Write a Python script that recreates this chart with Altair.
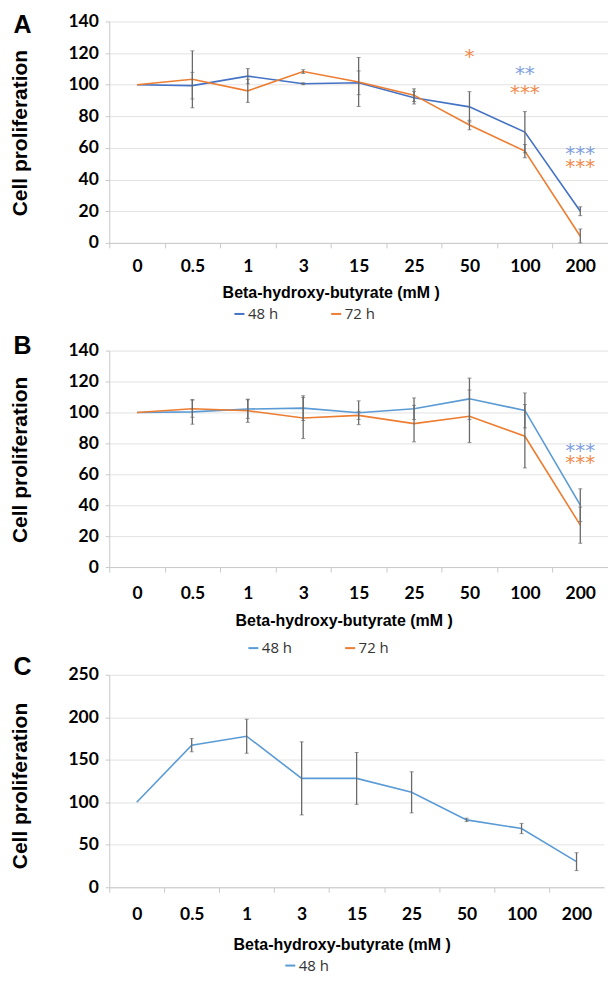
import altair as alt
import pandas as pd

categories = ["0", "0.5", "1", "3", "15", "25", "50", "100", "200"]
series_names = ["48 h", "72 h"]

# Panel A
a_48 = [100, 99.4, 105.4, 100.6, 101.2, 91.8, 86.0, 70.0, 20.0]
a_48_err = [0, 8.4, 4.8, 0.6, 7.5, 4.0, 9.6, 13.0, 2.8]
a_72 = [100, 103.4, 96.1, 108.3, 101.7, 93.4, 74.5, 58.0, 4.2]
a_72_err = [0, 18.0, 7.3, 1.2, 15.5, 4.0, 3.0, 4.2, 4.6]
a_star_cat = ["50", "100", "100", "200", "200"]
a_star_y = [120.5, 109.5, 97.8, 59.0, 50.8]
a_star_txt = ["*", "**", "***", "***", "***"]
a_star_series = ["72 h", "48 h", "72 h", "48 h", "72 h"]

# Panel B
b_48 = [100, 100.4, 102.2, 102.8, 99.8, 102.4, 108.8, 101.3, 40.0]
b_48_err = [0, 8.0, 6.0, 8.0, 7.7, 7.0, 13.4, 11.3, 10.6]
b_72 = [100, 102.4, 101.1, 96.4, 98.1, 92.8, 97.5, 84.6, 27.1]
b_72_err = [0, 5.5, 7.5, 13.3, 2.6, 11.8, 17.0, 20.5, 11.7]
b_star_cat = ["200", "200"]
b_star_y = [78.0, 70.3]
b_star_txt = ["***", "***"]
b_star_series = ["48 h", "72 h"]

# Panel C
c_48 = [100, 167.2, 177.7, 128.1, 128.1, 111.7, 79.3, 69.1, 30.1]
c_48_err = [0, 7.8, 20.0, 43.0, 30.5, 24.2, 2.0, 6.0, 10.5]

panel_letters = ["A", "B", "C"]
x_title = "Beta-hydroxy-butyrate (mM )"
y_title = "Cell proliferation"
y_ticks_ab = [0, 20, 40, 60, 80, 100, 120, 140]
y_ticks_c = [0, 50, 100, 150, 200, 250]

GRAY_ERR = "#6a6a6a"
AX_GRAY = "#c9c9c9"
GRID = "#e2e2e2"


def long_df(series_list):
    rows = []
    for name, vals, errs in series_list:
        for i, (c, v, e) in enumerate(zip(categories, vals, errs)):
            rows.append({"dose": c, "idx": i, "series": name, "value": v, "err": e})
    return pd.DataFrame(rows)


def make_panel(letter, data, names, colors, stars, star_colors, width, height,
               ymax, yticks, letter_y, ytitle_y, xlab_pad, xtitle_x, xtitle_y,
               leg_x, leg_y):
    step = width / len(categories)
    x_axis = alt.Axis(title=x_title, titleFont="Liberation Sans",
                      titleFontSize=16, titleFontWeight="bold",
                      titleColor="black", titleX=xtitle_x, titleY=xtitle_y,
                      titleAlign="center", titleBaseline="middle",
                      labelFont="Lato", labelFontSize=17.5,
                      labelFontWeight="bold", labelColor="black",
                      labelAngle=0, labelBaseline="middle",
                      labelPadding=xlab_pad, tickOffset=-step / 2,
                      labelOffset=step / 2, tickSize=5,
                      tickColor=AX_GRAY, domainColor=AX_GRAY,
                      grid=False)
    y_axis = alt.Axis(values=yticks, title=y_title,
                      titleFont="Liberation Sans", titleFontSize=21,
                      titleFontWeight="bold", titleColor="black",
                      titleAngle=270, titleX=-89, titleY=ytitle_y,
                      titleAlign="center", titleBaseline="middle",
                      labelFont="Lato", labelFontSize=17.5,
                      labelFontWeight="bold", labelColor="black",
                      labelPadding=7, tickSize=4, tickColor=AX_GRAY,
                      domainColor=AX_GRAY, gridColor=GRID)
    xs = alt.Scale(type="point", padding=0.5)
    ys = alt.Scale(domain=[0, ymax], nice=False)
    x = alt.X("dose:N", sort=categories, scale=xs, axis=x_axis)

    line = alt.Chart(data).mark_line(strokeWidth=1.6).encode(
        x=x, y=alt.Y("value:Q", scale=ys, axis=y_axis),
        color=alt.Color("series:N",
                        scale=alt.Scale(domain=names, range=colors),
                        legend=alt.Legend(title=None, orient="none",
                                          legendX=leg_x, legendY=leg_y,
                                          direction="horizontal",
                                          symbolType="stroke", symbolSize=100,
                                          symbolStrokeWidth=2,
                                          labelFont="Open Sans",
                                          labelFontSize=15, labelColor="#333333",
                                          labelOffset=1, columnPadding=48,
                                          padding=0)),
        order="idx:Q")

    errbase = alt.Chart(data).transform_filter("datum.err > 0").transform_calculate(
        lo="max(0, datum.value - datum.err)", hi="datum.value + datum.err")
    rule = errbase.mark_rule(color=GRAY_ERR, strokeWidth=1.3).encode(
        x=x, y=alt.Y("lo:Q", scale=ys, axis=y_axis), y2="hi:Q")
    cap_lo = errbase.mark_tick(color=GRAY_ERR, orient="horizontal", size=4,
                               thickness=1).encode(
        x=x, y=alt.Y("lo:Q", scale=ys, axis=y_axis))
    cap_hi = errbase.mark_tick(color=GRAY_ERR, orient="horizontal", size=4,
                               thickness=1).encode(
        x=x, y=alt.Y("hi:Q", scale=ys, axis=y_axis))

    layers = [line, rule, cap_lo, cap_hi]

    if stars is not None:
        for s, col in zip(names, star_colors):
            t = alt.Chart(stars).transform_filter(
                alt.datum.series == s).mark_text(
                font="DejaVu Sans", fontSize=20, color=col,
                baseline="alphabetic", dy=10.5).encode(
                x=x, y=alt.Y("y:Q", scale=ys, axis=y_axis), text="txt:N")
            layers.append(t)

    let = alt.Chart(pd.DataFrame({"letter": [letter]})).mark_text(
        font="Liberation Sans", fontWeight="bold", fontSize=25, color="black",
        align="center", baseline="middle").encode(
        x=alt.value(-87), y=alt.value(letter_y), text="letter:N")
    layers.append(let)

    return alt.layer(*layers).properties(width=width, height=height)


dfA = long_df([("48 h", a_48, a_48_err), ("72 h", a_72, a_72_err)])
dfB = long_df([("48 h", b_48, b_48_err), ("72 h", b_72, b_72_err)])
dfC = long_df([("48 h", c_48, c_48_err)])
starsA = pd.DataFrame({"dose": a_star_cat, "y": a_star_y, "txt": a_star_txt,
                       "series": a_star_series})
starsB = pd.DataFrame({"dose": b_star_cat, "y": b_star_y, "txt": b_star_txt,
                       "series": b_star_series})

pA = make_panel(panel_letters[0], dfA, series_names, ["#4472C4", "#ED7D31"],
                starsA, ["#7f9fe0", "#f28a4c"], 500, 222, 140, y_ticks_ab,
                letter_y=4, ytitle_y=111.5, xlab_pad=19, xtitle_x=222,
                xtitle_y=50, leg_x=123, leg_y=285.5)
pB = make_panel(panel_letters[1], dfB, series_names, ["#5B9BD5", "#ED7D31"],
                starsB, ["#7f9fe0", "#f28a4c"], 500, 217, 140, y_ticks_ab,
                letter_y=-5, ytitle_y=109, xlab_pad=21.7, xtitle_x=235,
                xtitle_y=53.7, leg_x=137, leg_y=290.5)
pC = make_panel(panel_letters[2], dfC, ["48 h"], ["#5B9BD5"],
                None, None, 496, 213, 250, y_ticks_c,
                letter_y=-7.5, ytitle_y=111, xlab_pad=22, xtitle_x=233,
                xtitle_y=57, leg_x=174, leg_y=284)

chart = alt.vconcat(pA, pB, pC, spacing=108, bounds="flush").resolve_scale(
    color="independent").properties(
    padding={"left": 1.5, "top": 3.25, "right": 0, "bottom": 0}
).configure_view(strokeWidth=0)

chart.save("out.html", embed_options={"renderer": "svg", "actions": False})
